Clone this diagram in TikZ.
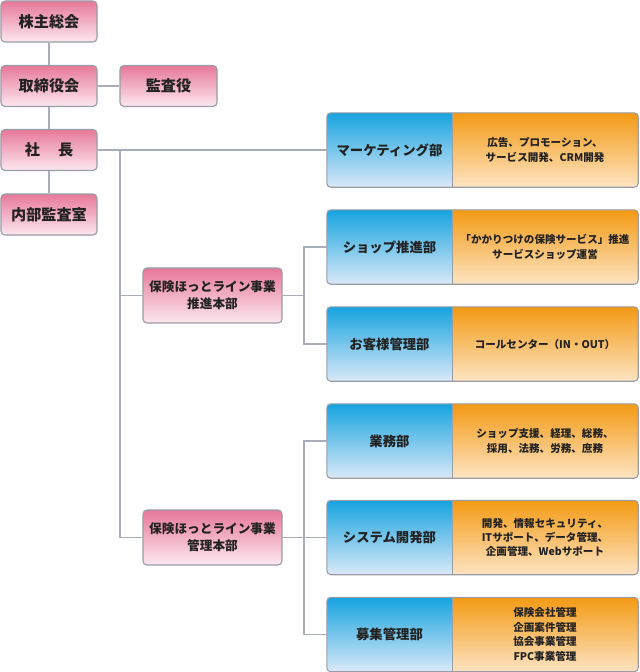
\documentclass[tikz,border=0pt]{standalone}
\usepackage{fontspec}
\setmainfont{Noto Sans CJK JP}
\usetikzlibrary{backgrounds}
\definecolor{pinktop}{HTML}{E7789A}
\definecolor{pinkbot}{HTML}{FCE8EF}
\definecolor{bluetop}{HTML}{16A3DF}
\definecolor{bluebot}{HTML}{DAE9F8}
\definecolor{orgtop}{HTML}{F39A14}
\definecolor{orgbot}{HTML}{FDE4C3}
\definecolor{boxgray}{HTML}{9A9CA6}
\definecolor{linegray}{HTML}{A9ACB9}
\definecolor{txt}{HTML}{222222}
\tikzset{
  boxline/.style={draw=boxgray, line width=1.1bp},
  pinkbox/.style={boxline, rounded corners=4bp, top color=pinktop, bottom color=pinkbot,
    minimum width=96bp, minimum height=41bp, inner sep=0pt, align=center, text=txt,
    font=\bfseries\fontsize{15.2}{17}\selectfont},
  midbox/.style={pinkbox, minimum width=139bp, minimum height=55bp,
    font=\bfseries\fontsize{12.7}{17}\selectfont},
  deptname/.style={minimum width=125bp, minimum height=74bp, inner sep=0pt, text=txt,
    font=\bfseries\fontsize{13.4}{15}\selectfont},
  deptdesc/.style={minimum width=186bp, minimum height=74bp, inner sep=0pt, align=center, text=txt,
    font=\bfseries\fontsize{10.6}{14.5}\selectfont},
  conn/.style={draw=linegray, line width=1.3bp},
}
\newcommand\deptrow[5]{%
  \node[deptname] (#1) at (389.5,#3) {#4};
  \node[deptdesc] (#2) at (545,#3) {#5};
  \begin{scope}[on background layer]
    \begin{scope}
      \clip[rounded corners=4bp] (#1.north west) rectangle (#2.south east);
      \shade[top color=bluetop,bottom color=bluebot] (#1.north west) rectangle (#1.south east);
      \shade[top color=orgtop,bottom color=orgbot] (#2.north west) rectangle (#2.south east);
    \end{scope}
    \draw[boxline, rounded corners=4bp] (#1.north west) rectangle (#2.south east);
    \draw[boxline] (#1.north east) -- (#1.south east);
  \end{scope}}
\begin{document}
\begin{tikzpicture}[x=1bp,y=-1bp]
\useasboundingbox (0,0) rectangle (640,672);
% top-left chain
\node[pinkbox] (kabu) at (49,21.5) {株主総会};
\node[pinkbox] (tori) at (49,86) {取締役会};
\node[pinkbox, minimum width=97bp] (kansa) at (168.5,86) {監査役};
\node[pinkbox] (shacho) at (49,150) {社\hspace{1.2em}長};
\node[pinkbox] (naibu) at (49,214.5) {内部監査室};
% middle
\node[midbox] (suishin) at (212.5,295.5) {保険ほっとライン事業\\推進本部};
\node[midbox] (kanri) at (212.5,537.5) {保険ほっとライン事業\\管理本部};
% departments
\deptrow{mk}{mkd}{150}{マーケティング部}{広告、プロモーション、\\サービス開発、CRM開発}
\deptrow{shop}{shopd}{247}{ショップ推進部}{「かかりつけの保険サービス」推進\\サービスショップ運営}
\deptrow{okyaku}{okyakud}{344}{お客様管理部}{コールセンター（IN・OUT）}
\deptrow{gyomu}{gyomud}{441}{業務部}{ショップ支援、経理、総務、\\採用、法務、労務、庶務}
\deptrow{sys}{sysd}{537.5}{システム開発部}{開発、情報セキュリティ、\\ITサポート、データ管理、\\企画管理、Webサポート}
\deptrow{boshu}{boshud}{634.5}{募集管理部}{保険会社管理\\企画案件管理\\協会事業管理\\FPC事業管理}
% connectors
\begin{scope}[on background layer]
\draw[conn] (kabu) -- (tori);
\draw[conn] (tori) -- (kansa);
\draw[conn] (tori) -- (shacho);
\draw[conn] (shacho) -- (naibu);
\draw[conn] (shacho.east) -- (mk.west);
\coordinate (j1) at (120,150);
\draw[conn] (j1) |- (suishin.west);
\draw[conn] (j1) |- (kanri.west);
\coordinate (j2) at (304,295.5);
\draw[conn] (suishin.east) -- (j2);
\draw[conn] (j2) |- (shop.west);
\draw[conn] (j2) |- (okyaku.west);
\coordinate (j3) at (304,537.5);
\draw[conn] (kanri.east) -- (j3);
\draw[conn] (j3) |- (gyomu.west);
\draw[conn] (j3) |- (boshu.west);
\draw[conn] (j3) -- (sys.west);
\end{scope}
\end{tikzpicture}
\end{document}
